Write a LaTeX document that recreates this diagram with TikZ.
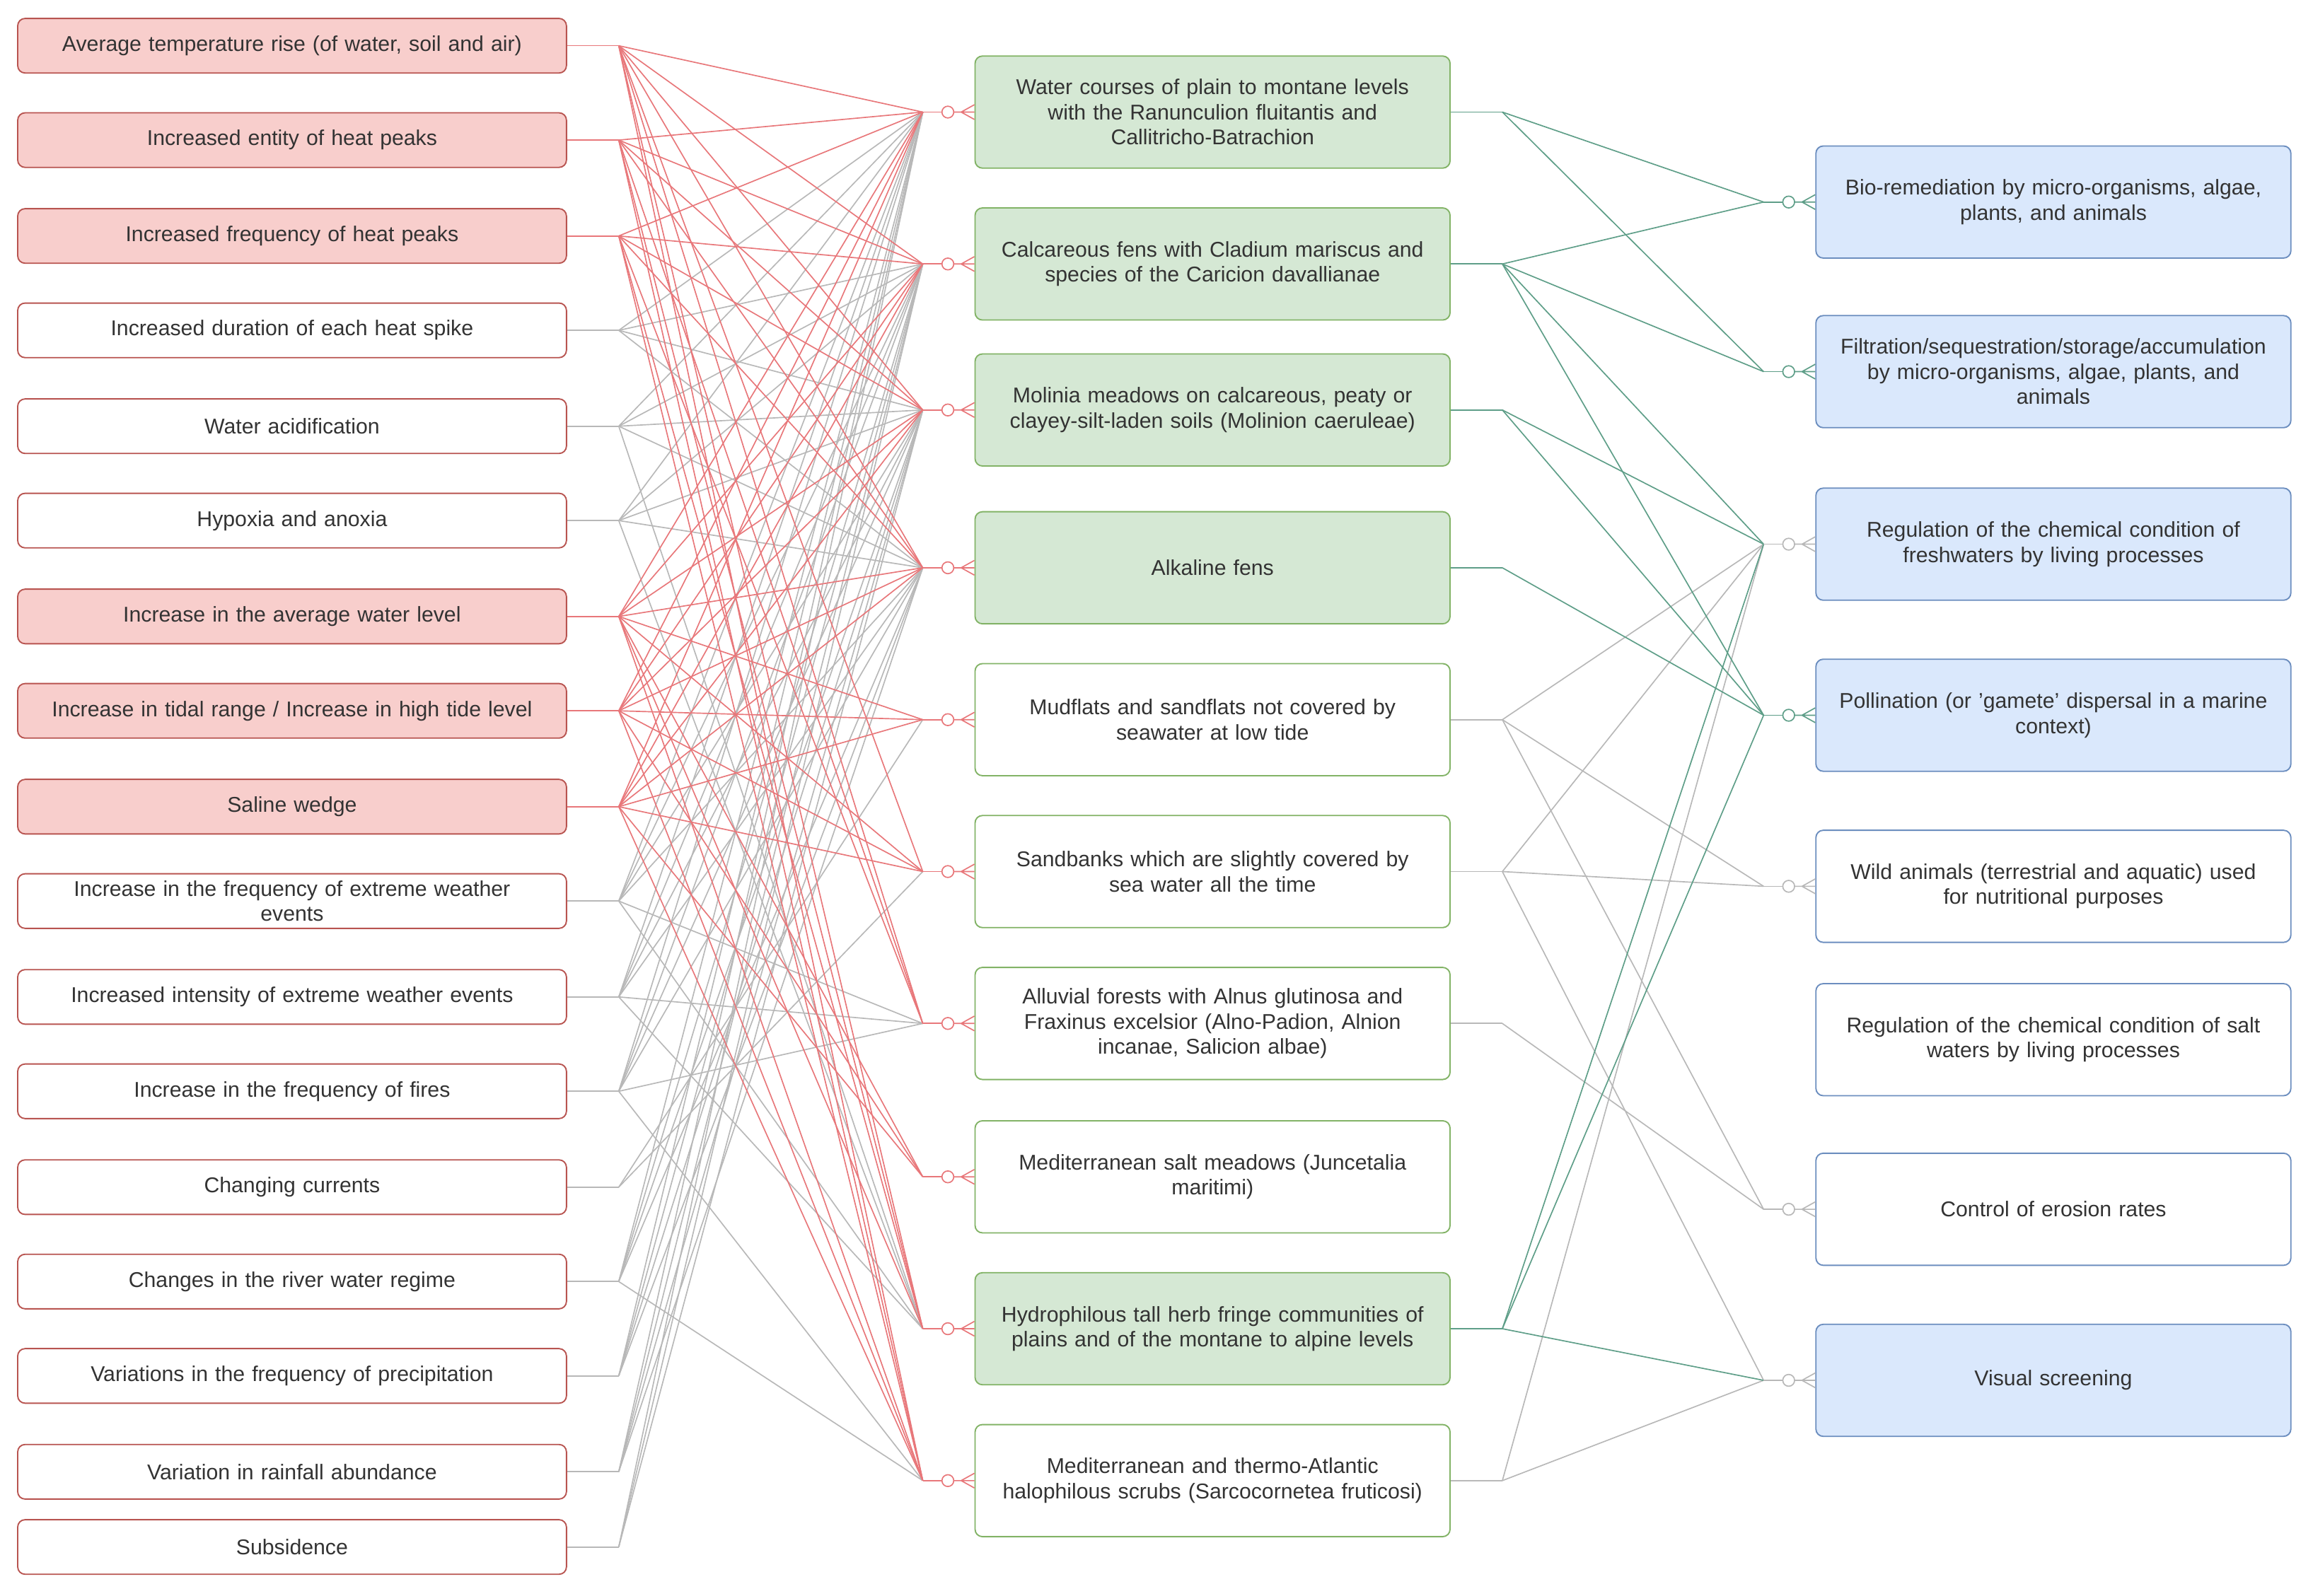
\documentclass[tikz,border=0pt]{standalone}
\usepackage{fontspec}
\setmainfont{Liberation Sans}
\definecolor{rfill}{HTML}{F8CECC}\definecolor{rdraw}{HTML}{B85450}
\definecolor{gfill}{HTML}{D5E8D4}\definecolor{gdraw}{HTML}{82B366}
\definecolor{bfill}{HTML}{DAE8FC}\definecolor{bdraw}{HTML}{6C8EBF}
\definecolor{redline}{HTML}{E8777A}\definecolor{grnline}{HTML}{5E9E88}
\begin{document}
\begin{tikzpicture}[x=1pt,y=-1pt,
  box/.style={draw,rounded corners=5pt,line width=0.9pt,align=center,inner sep=2pt,font=\fontsize{14.5}{17}\selectfont,text=black!80},
  lbox/.style={box,minimum width=372pt,minimum height=37pt,text width=366pt,draw=rdraw},
  mbox/.style={box,minimum width=318pt,minimum height=76pt,text width=318pt,draw=gdraw},
  rbox/.style={box,minimum width=318pt,minimum height=76pt,text width=318pt,draw=bdraw},
  r/.style={fill=rfill}, w/.style={fill=white},
  g/.style={fill=gfill}, b/.style={fill=bfill},
  redE/.style={draw=redline,line width=0.8pt},
  grayE/.style={draw=black!28,line width=0.8pt},
  greenE/.style={draw=grnline,line width=0.8pt}]
\useasboundingbox (0,0) rectangle (1568,1082);
% left
\foreach \i/\y/\f/\t in {1/31/r/{Average temperature rise (of water, soil and air)},2/95/r/{Increased entity of heat peaks},3/160/r/{Increased frequency of heat peaks},4/224/w/{Increased duration of each heat spike},5/289/w/{Water acidification},6/353/w/{Hypoxia and anoxia},7/418/r/{Increase in the average water level},8/482/r/{Increase in tidal range / Increase in high tide level},9/547/r/{Saline wedge},10/611/w/{Increase in the frequency of extreme weather\\events},11/676/w/{Increased intensity of extreme weather events},12/740/w/{Increase in the frequency of fires},13/805/w/{Changing currents},14/869/w/{Changes in the river water regime},15/933/w/{Variations in the frequency of precipitation},16/998/w/{Variation in rainfall abundance},17/1049/w/{Subsidence}}
 {\node[lbox,\f] (L\i) at (198,\y) {\t};
  \coordinate (Lo\i) at ([xshift=35pt]L\i.east);}
% middle
\foreach \i/\y/\f/\t in {1/76/g/{Water courses of plain to montane levels\\with the Ranunculion fluitantis and\\Callitricho-Batrachion},2/179/g/{Calcareous fens with Cladium mariscus and\\species of the Caricion davallianae},3/278/g/{Molinia meadows on calcareous, peaty or\\clayey-silt-laden soils (Molinion caeruleae)},4/385/g/{Alkaline fens},5/488/w/{Mudflats and sandflats not covered by\\seawater at low tide},6/591/w/{Sandbanks which are slightly covered by\\sea water all the time},7/694/w/{Alluvial forests with Alnus glutinosa and\\Fraxinus excelsior (Alno-Padion, Alnion\\incanae, Salicion albae)},8/798/w/{Mediterranean salt meadows (Juncetalia\\maritimi)},9/901/g/{Hydrophilous tall herb fringe communities of\\plains and of the montane to alpine levels},10/1004/w/{Mediterranean and thermo-Atlantic\\halophilous scrubs (Sarcocornetea fruticosi)}}
 {\node[mbox,\f] (M\i) at (822,\y) {\t};
  \coordinate (Mi\i) at ([xshift=-35pt]M\i.west);
  \coordinate (Mo\i) at ([xshift=35pt]M\i.east);}
% right
\foreach \i/\y/\f/\t in {1/137/b/{Bio-remediation by micro-organisms, algae,\\plants, and animals},2/252/b/{Filtration/sequestration/storage/accumulation\\by micro-organisms, algae, plants, and\\animals},3/369/b/{Regulation of the chemical condition of\\freshwaters by living processes},4/485/b/{Pollination (or 'gamete' dispersal in a marine\\context)},5/601/w/{Wild animals (terrestrial and aquatic) used\\for nutritional purposes},6/705/w/{Regulation of the chemical condition of salt\\waters by living processes},7/820/w/{Control of erosion rates},8/936/b/{Visual screening}}
 {\node[rbox,\f] (R\i) at (1392,\y) {\t};
  \coordinate (Ri\i) at ([xshift=-35pt]R\i.west);}
% left -> middle edges
\foreach \s/\ts in {4/{1,2,3,4},5/{1,2,3,4,9},6/{1,2,3,4,9},10/{1,2,3,4,7,9},11/{1,2,3,4,7,9},12/{1,2,3,4,7,10},13/{5,6},14/{1,2,3,4,10},15/{1,2,3,4},16/{1,2,3,4},17/{1,2,3}}
  {\draw[grayE] (L\s.east) -- (Lo\s);
   \foreach \t in \ts {\draw[grayE] (Lo\s) -- (Mi\t);}}
\foreach \s/\ts in {1/{1,2,3,4,6,7,9,10},2/{1,2,3,4,7,9,10},3/{1,2,3,4,7,9,10},7/{1,2,3,4,5,6,8,9,10},8/{1,2,3,4,5,6,8,10},9/{1,2,3,4,5,6,8,10}}
  {\draw[redE] (L\s.east) -- (Lo\s);
   \foreach \t in \ts {\draw[redE] (Lo\s) -- (Mi\t);}}
% middle -> right
\foreach \s/\ts in {5/{3,5,7},6/{3,5,8},7/{7},10/{3,8}}
  {\draw[grayE] (M\s.east) -- (Mo\s);
   \foreach \t in \ts {\draw[grayE] (Mo\s) -- (Ri\t);}}
\foreach \s/\ts in {1/{1,2},2/{1,2,3,4},3/{3,4},4/{4},9/{3,4,8}}
  {\draw[greenE] (M\s.east) -- (Mo\s);
   \foreach \t in \ts {\draw[greenE] (Mo\s) -- (Ri\t);}}
% markers (zero-or-many)
\foreach \n/\st in {M1/redE,M2/redE,M3/redE,M4/redE,M5/redE,M6/redE,M7/redE,M8/redE,M9/redE,M10/redE,R1/greenE,R2/greenE,R3/grayE,R4/greenE,R5/grayE,R7/grayE,R8/grayE}
  {\draw[\st] ([xshift=-35pt]\n.west) -- ([xshift=-22pt]\n.west);
   \draw[\st,fill=white] ([xshift=-18pt]\n.west) circle (4pt);
   \draw[\st] ([xshift=-14pt]\n.west) -- (\n.west)
     ([xshift=-9pt]\n.west) -- ([yshift=-5pt]\n.west)
     ([xshift=-9pt]\n.west) -- ([yshift=5pt]\n.west);}
\end{tikzpicture}
\end{document}
